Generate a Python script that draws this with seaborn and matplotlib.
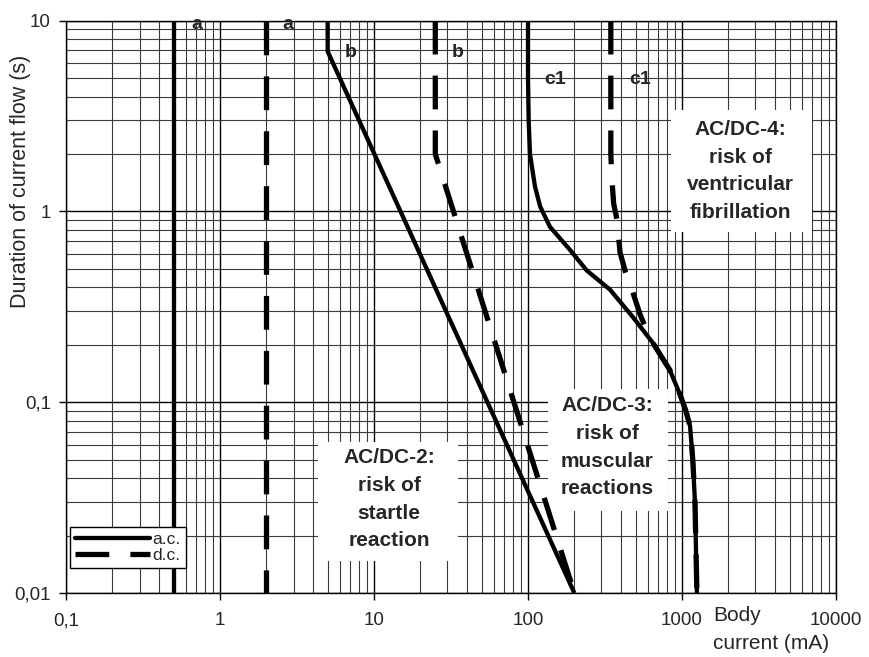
import numpy as np
import pandas as pd
import matplotlib
matplotlib.use("Agg")
import matplotlib.pyplot as plt
import seaborn as sns
from matplotlib.lines import Line2D
from matplotlib.patches import Rectangle
from matplotlib.ticker import FixedLocator, FixedFormatter, LogLocator, NullFormatter

# curve data (body current in mA, duration in s)
a_ac_x = [0.5, 0.5]
a_ac_y = [10, 0.01]
a_dc_x = [2, 2]
a_dc_y = [10, 0.01]
b_ac_x = [5, 5, 200]
b_ac_y = [10, 6.9, 0.01]
b_dc_x = [25, 25, 200]
b_dc_y = [10, 2, 0.01]
c1_ac_x = [100, 100, 101, 103, 111, 120, 139, 187, 241, 340, 479, 646, 832, 970, 1060, 1128, 1175, 1214, 1250]
c1_ac_y = [10, 5, 3, 2, 1.35, 1.06, 0.83, 0.63, 0.49, 0.39, 0.28, 0.205, 0.148, 0.11, 0.09, 0.075, 0.05, 0.03, 0.01]
c1_dc_x = [345, 345, 350, 360, 379, 396, 430, 473, 533, 600, 646, 832, 970, 1060, 1128, 1175, 1214, 1250]
c1_dc_y = [10, 2, 1.5, 1.1, 0.9, 0.61, 0.48, 0.39, 0.29, 0.23, 0.205, 0.148, 0.11, 0.09, 0.075, 0.05, 0.03, 0.01]

x_ticks = [0.1, 1, 10, 100, 1000, 10000]
x_labels = ["0,1", "1", "10", "100", "1000", "10000"]
y_ticks = [0.01, 0.1, 1, 10]
y_labels = ["0,01", "0,1", "1", "10"]

sns.set_style("ticks")
plt.rcParams['font.family'] = ['Liberation Sans', 'DejaVu Sans']

fig = plt.figure(figsize=(8.69, 6.57), dpi=100)
ax = fig.add_axes([0.076, 0.0974, 0.886, 0.8711])
ax.set_xscale('log')
ax.set_yscale('log')

solid = dict(color='black', lw=3.1, solid_capstyle='butt', solid_joinstyle='round', zorder=3)
dashed = dict(color='black', lw=3.8, linestyle=(0, (6.4, 4)), dash_capstyle='butt', zorder=3)

for xs, ys, st in [(a_ac_x, a_ac_y, solid), (a_dc_x, a_dc_y, dashed),
                   (b_ac_x, b_ac_y, solid), (b_dc_x, b_dc_y, dashed),
                   (c1_ac_x, c1_ac_y, solid), (c1_dc_x, c1_dc_y, dashed)]:
    df = pd.DataFrame({"I": xs, "t": ys})
    sns.lineplot(data=df, x="I", y="t", sort=False, estimator=None, ax=ax, **st)

ax.set_xlim(0.1, 10000)
ax.set_ylim(0.01, 10)
ax.xaxis.set_major_locator(FixedLocator(x_ticks))
ax.xaxis.set_major_formatter(FixedFormatter(x_labels))
ax.yaxis.set_major_locator(FixedLocator(y_ticks))
ax.yaxis.set_major_formatter(FixedFormatter(y_labels))
ax.xaxis.set_minor_locator(LogLocator(base=10, subs=range(2, 10), numticks=20))
ax.yaxis.set_minor_locator(LogLocator(base=10, subs=range(2, 10), numticks=20))
ax.xaxis.set_minor_formatter(NullFormatter())
ax.yaxis.set_minor_formatter(NullFormatter())
ax.tick_params(which='major', direction='out', length=5, width=1, color='black',
               labelsize=13.5)
ax.tick_params(axis='x', which='major', pad=9)
ax.tick_params(axis='y', which='major', pad=6)
ax.tick_params(which='minor', length=0)
ax.set_axisbelow(True)
ax.grid(which='major', color='black', lw=1.0)
ax.grid(which='minor', color='#3a3a3a', lw=0.8)
for sp in ax.spines.values():
    sp.set_color('black')
    sp.set_linewidth(1)
ax.set_xlabel("")
ax.set_ylabel("Duration of current flow (s)", fontsize=15.5)
ax.yaxis.set_label_coords(-0.0455, 0.72)

# white zone boxes
for (x0, x1, y0, y1) in [(4.33, 35.1, 0.01466, 0.0622), (135, 811, 0.0268, 0.1167),
                         (849, 7000, 0.783, 3.41)]:
    ax.add_patch(Rectangle((x0, y0), x1 - x0, y1 - y0, facecolor='white',
                           edgecolor='none', zorder=1.5))

zone_kw = dict(ha='center', va='center', fontsize=15, fontweight='bold',
               linespacing=1.58, zorder=4)
ax.text(12.5, 0.031, "AC/DC-2:\nrisk of\nstartle\nreaction", **zone_kw)
ax.text(326, 0.058, "AC/DC-3:\nrisk of\nmuscular\nreactions", **zone_kw)
ax.text(2380, 1.63, "AC/DC-4:\nrisk of\nventricular\nfibrillation", **zone_kw)

curve_kw = dict(ha='center', va='center', fontsize=14, fontweight='bold', zorder=4)
ax.text(0.71, 9.5, "a", **curve_kw)
ax.text(2.77, 9.5, "a", **curve_kw)
ax.text(7.0, 6.85, "b", **curve_kw)
ax.text(35, 6.85, "b", **curve_kw)
ax.text(150, 4.9, "c1", **curve_kw)
ax.text(533, 4.9, "c1", **curve_kw)

fig.text(713 / 869, 1 - 606 / 657, "Body\ncurrent (mA)", ha='left', va='top',
         fontsize=15, linespacing=1.6)

handles = [Line2D([], [], color='black', lw=3.1, solid_capstyle='round'),
           Line2D([], [], color='black', lw=3.8, linestyle=(0, (6.4, 4)), dash_capstyle='butt')]
leg = ax.legend(handles, ["a.c.", "d.c."], loc='lower left', bbox_to_anchor=(0.005, 0.044),
                borderaxespad=0, fontsize=12.5, handlelength=4.3, handletextpad=0.15,
                labelspacing=0.0, borderpad=0.3, fancybox=False, framealpha=1)
leg.get_frame().set_edgecolor('black')
leg.get_frame().set_linewidth(1)
leg.set_zorder(5)

plt.savefig("out.png", dpi=100)
